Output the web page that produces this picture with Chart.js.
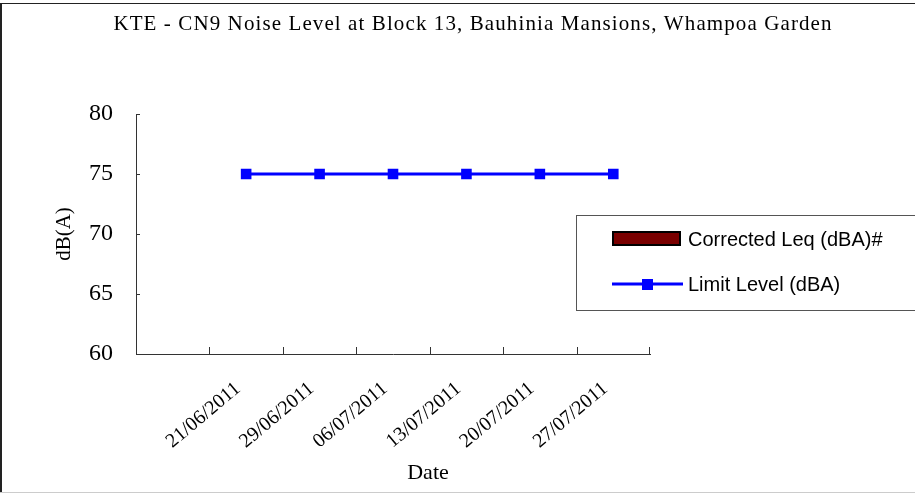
<!DOCTYPE html>
<html>
<head>
<meta charset="utf-8">
<script src="https://cdn.jsdelivr.net/npm/chart.js@4/dist/chart.umd.min.js"></script>
<style>
  body { margin: 0; background: #fff; }
  #wrap { width: 915px; height: 493px; }
</style>
</head>
<body>
<div id="wrap"><canvas id="grafico" width="915" height="493"></canvas></div>
<script>
// dados
const chartTitle = 'KTE - CN9 Noise Level at Block 13, Bauhinia Mansions, Whampoa Garden';
const dateLabels = ['', '21/06/2011', '29/06/2011', '06/07/2011', '13/07/2011', '20/07/2011', '27/07/2011'];
const correctedLeq = [null, null, null, null, null, null, null];
const limitLevel = [null, 75, 75, 75, 75, 75, 75];
const yTicks = [60, 65, 70, 75, 80];

const serif = '"Liberation Serif", "Times New Roman", serif';
const sans = '"Liberation Sans", Arial, sans-serif';

// fundo, moldura e título
const moldura = {
  id: 'moldura',
  beforeDraw(chart) {
    const ctx = chart.ctx;
    ctx.save();
    ctx.fillStyle = '#fff';
    ctx.fillRect(0, 0, chart.width, chart.height);
    ctx.fillStyle = '#222';
    ctx.fillRect(0, 3, 2, chart.height - 4);
    ctx.fillRect(0, 3, chart.width, 1);
    ctx.fillStyle = '#ccc';
    ctx.fillRect(0, chart.height - 1, chart.width, 1);
    ctx.fillStyle = '#000';
    ctx.font = '21px ' + serif;
    ctx.letterSpacing = '1.1px';
    ctx.textAlign = 'center';
    ctx.textBaseline = 'middle';
    ctx.fillText(chartTitle, 473, 24);
    ctx.restore();
  }
};

// marcas internas dos eixos, título "Date" e legenda
const extras = {
  id: 'extras',
  afterDraw(chart) {
    const ctx = chart.ctx;
    const x = chart.scales.x;
    const y = chart.scales.y;
    const area = chart.chartArea;
    ctx.save();
    ctx.strokeStyle = '#333';
    ctx.lineWidth = 1;
    ctx.beginPath();
    for (let i = 1; i <= dateLabels.length; i++) {
      const px = i < dateLabels.length
        ? Math.round((x.getPixelForValue(i - 1) + x.getPixelForValue(i)) / 2) + 0.5
        : Math.round(area.right) - 0.5;
      ctx.moveTo(px, area.bottom);
      ctx.lineTo(px, area.bottom - 7);
    }
    yTicks.forEach(v => {
      const py = Math.round(y.getPixelForValue(v)) + 0.5;
      ctx.moveTo(area.left, py);
      ctx.lineTo(area.left + 4, py);
    });
    ctx.stroke();

    ctx.fillStyle = '#000';
    ctx.font = '22px ' + serif;
    ctx.textAlign = 'center';
    ctx.textBaseline = 'middle';
    ctx.fillText('Date', 428, 473);

    // legenda
    ctx.fillStyle = '#fff';
    ctx.fillRect(576, 215, 345, 96);
    ctx.strokeStyle = '#555';
    ctx.strokeRect(576.5, 215.5, 345, 95);
    const ds = chart.data.datasets;
    ctx.fillStyle = ds[0].backgroundColor;
    ctx.fillRect(613, 232, 67, 13);
    ctx.strokeStyle = ds[0].borderColor;
    ctx.lineWidth = 2;
    ctx.strokeRect(613, 232, 67, 13);
    ctx.strokeStyle = ds[1].borderColor;
    ctx.lineWidth = 3;
    ctx.beginPath();
    ctx.moveTo(612, 284);
    ctx.lineTo(683, 284);
    ctx.stroke();
    ctx.fillStyle = ds[1].pointBackgroundColor;
    ctx.fillRect(642, 279, 11, 11);
    ctx.fillStyle = '#000';
    ctx.font = '20px ' + sans;
    ctx.textAlign = 'left';
    ctx.fillText(ds[0].label, 688, 240);
    ctx.fillText(ds[1].label, 688, 285);
    ctx.restore();
  }
};

const ctx = document.getElementById('grafico').getContext('2d');
const grafico = new Chart(ctx, {
  type: 'bar',
  data: {
    labels: dateLabels,
    datasets: [{
      label: 'Corrected Leq (dBA)#',
      data: correctedLeq,
      backgroundColor: '#7a0000',
      borderColor: '#000',
      borderWidth: 1
    }, {
      type: 'line',
      label: 'Limit Level (dBA)',
      data: limitLevel,
      borderColor: '#0000ff',
      backgroundColor: '#0000ff',
      pointBackgroundColor: '#0000ff',
      pointBorderColor: '#0000ff',
      pointStyle: 'rect',
      pointRadius: 7.5,
      pointBorderWidth: 0,
      borderWidth: 3,
      fill: false
    }]
  },
  options: {
    responsive: false,
    animation: false,
    layout: { padding: { top: 114, right: 265, bottom: 0, left: 0 } },
    plugins: {
      legend: { display: false },
      title: { display: false },
      tooltip: { enabled: false }
    },
    scales: {
      x: {
        grid: { display: false },
        border: { display: true, color: '#333', width: 1 },
        ticks: {
          color: '#000',
          font: { family: serif, size: 20 },
          minRotation: 40,
          maxRotation: 40,
          autoSkip: false,
          labelOffset: -8,
          padding: 15
        },
        afterFit(scale) { scale.height = 139; }
      },
      y: {
        min: 60,
        max: 80,
        grid: { display: false },
        border: { display: true, color: '#333', width: 1 },
        ticks: {
          stepSize: 5,
          color: '#000',
          font: { family: serif, size: 24 },
          padding: 15
        },
        title: {
          display: true,
          text: 'dB(A)',
          color: '#000',
          font: { family: serif, size: 21 },
          padding: { top: 52, bottom: 0 }
        },
        afterFit(scale) { scale.width = 136; }
      }
    }
  },
  plugins: [moldura, extras]
});
</script>
</body>
</html>
